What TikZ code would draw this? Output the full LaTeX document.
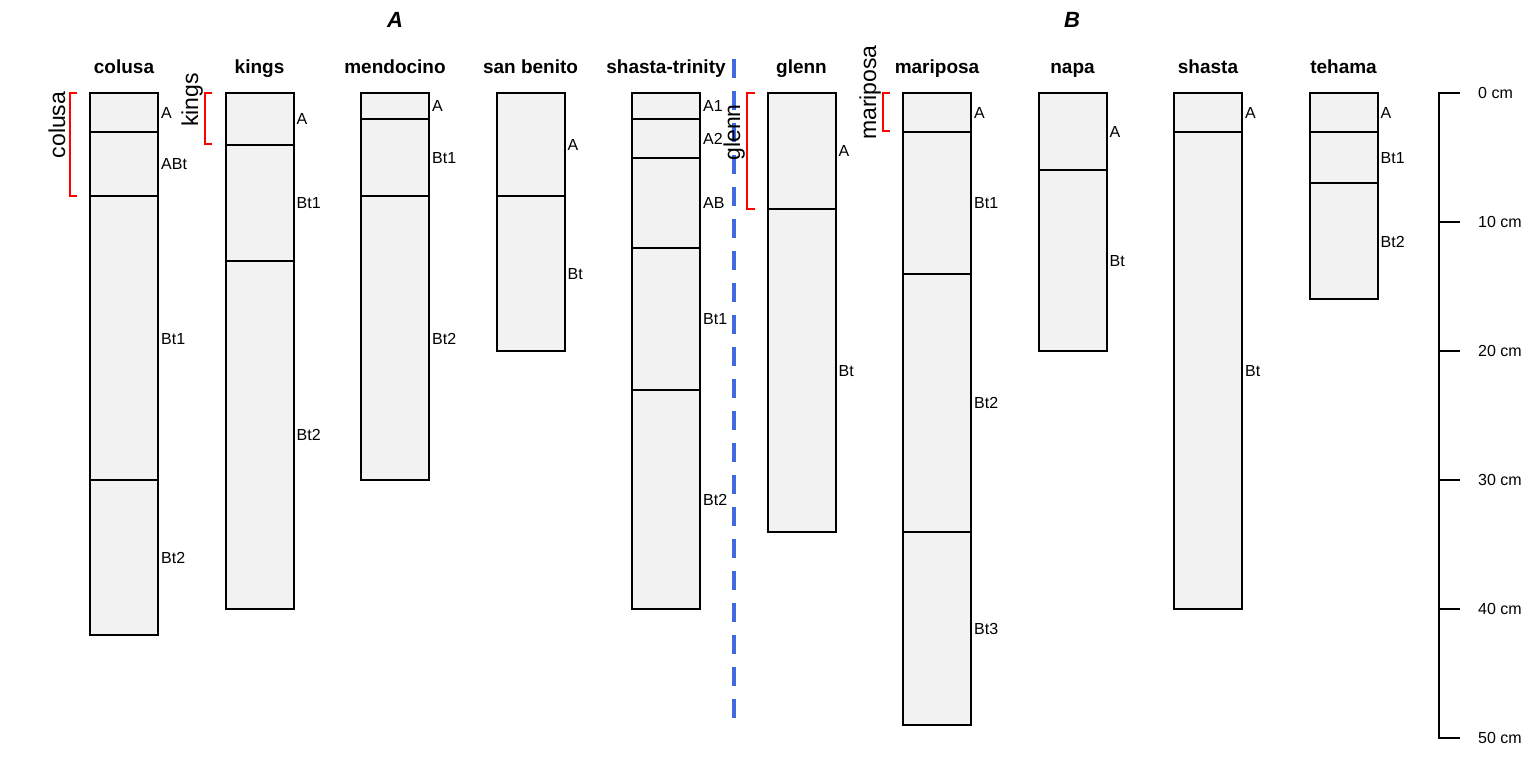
\documentclass[tikz,border=0pt]{standalone}
\usepackage{fontspec}
\setmainfont{Liberation Sans}
\definecolor{hzfill}{HTML}{F2F2F2}
\definecolor{dashblue}{HTML}{4169E1}
\newcommand\soilprofile[3]{%
  \pgfmathsetmacro\xl{90+135.5*#1}%
  \pgfmathsetmacro\xr{\xl+68}%
  \pgfmathsetmacro\xc{\xl+34}%
  \node[colname] (n#1) at (\xc,74) {#2};
  \foreach \a/\b/\lab [count=\k] in {#3} {
    \draw[hz] (\xl,{93+12.9*\a}) rectangle (\xr,{93+12.9*\b});
    \node[hzlab] (h#1-\k) at (\xr+3,{93+12.9*(\a+\b)/2+5.9}) {\lab};
  }
}
\begin{document}
\begin{tikzpicture}[x=1pt,y=-1pt,
  hz/.style={draw=black,fill=hzfill,line width=2pt},
  colname/.style={anchor=base,inner sep=0pt,font=\fontsize{19}{19}\selectfont\bfseries},
  hzlab/.style={anchor=base west,inner sep=0pt,font=\fontsize{16}{16}\selectfont},
  rotlab/.style={rotate=90,anchor=base,inner sep=0pt,font=\fontsize{23}{23}\selectfont},
  bracket/.style={draw=red,line width=2pt},
  axisline/.style={draw=black,line width=2pt},
  title/.style={anchor=base,inner sep=0pt,font=\fontsize{22}{22}\selectfont\bfseries\itshape}]
\useasboundingbox (0,0) rectangle (1536,768);
\fill[white] (0,0) rectangle (1536,768);
% group titles
\node[title] (tA) at (395,28) {A};
\node[title] (tB) at (1072,28) {B};
% dashed separator
\coordinate (d1) at (734,59);
\coordinate (d2) at (734,718);
\draw[dashblue,line width=4pt,dash pattern=on 19pt off 13pt] (d1) -- (d2);
% profiles
\soilprofile{0}{colusa}{0/3/A,3/8/ABt,8/30/Bt1,30/42/Bt2}
\soilprofile{1}{kings}{0/4/A,4/13/Bt1,13/40/Bt2}
\soilprofile{2}{mendocino}{0/2/A,2/8/Bt1,8/30/Bt2}
\soilprofile{3}{san benito}{0/8/A,8/20/Bt}
\soilprofile{4}{shasta-trinity}{0/2/A1,2/5/A2,5/12/AB,12/23/Bt1,23/40/Bt2}
\soilprofile{5}{glenn}{0/9/A,9/34/Bt}
\soilprofile{6}{mariposa}{0/3/A,3/14/Bt1,14/34/Bt2,34/49/Bt3}
\soilprofile{7}{napa}{0/6/A,6/20/Bt}
\soilprofile{8}{shasta}{0/3/A,3/40/Bt}
\soilprofile{9}{tehama}{0/3/A,3/7/Bt1,7/16/Bt2}
% brackets
\draw[bracket] (77,93) -- (70,93) -- (70,196) -- (77,196);
\draw[bracket] (212,93) -- (205,93) -- (205,144) -- (212,144);
\draw[bracket] (755,93) -- (747,93) -- (747,209) -- (755,209);
\draw[bracket] (890,93) -- (883,93) -- (883,131) -- (890,131);
\node[rotlab] (rcolusa) at (65,125) {colusa};
\node[rotlab] (rkings) at (198,100) {kings};
\node[rotlab] (rglenn) at (740,132.5) {glenn};
\node[rotlab] (rmariposa) at (876,92.5) {mariposa};
% depth scale
\draw[axisline] (1460,93) -- (1439,93) -- (1439,738) -- (1460,738);
\foreach \d in {10,20,30,40} {
  \draw[axisline] (1439,{93+12.9*\d}) -- (1460,{93+12.9*\d});
}
\foreach \d in {0,10,20,30,40,50} {
  \node[hzlab] (s\d) at (1478,{93+12.9*\d+5.9}) {\d\ cm};
}
\end{tikzpicture}
\end{document}
